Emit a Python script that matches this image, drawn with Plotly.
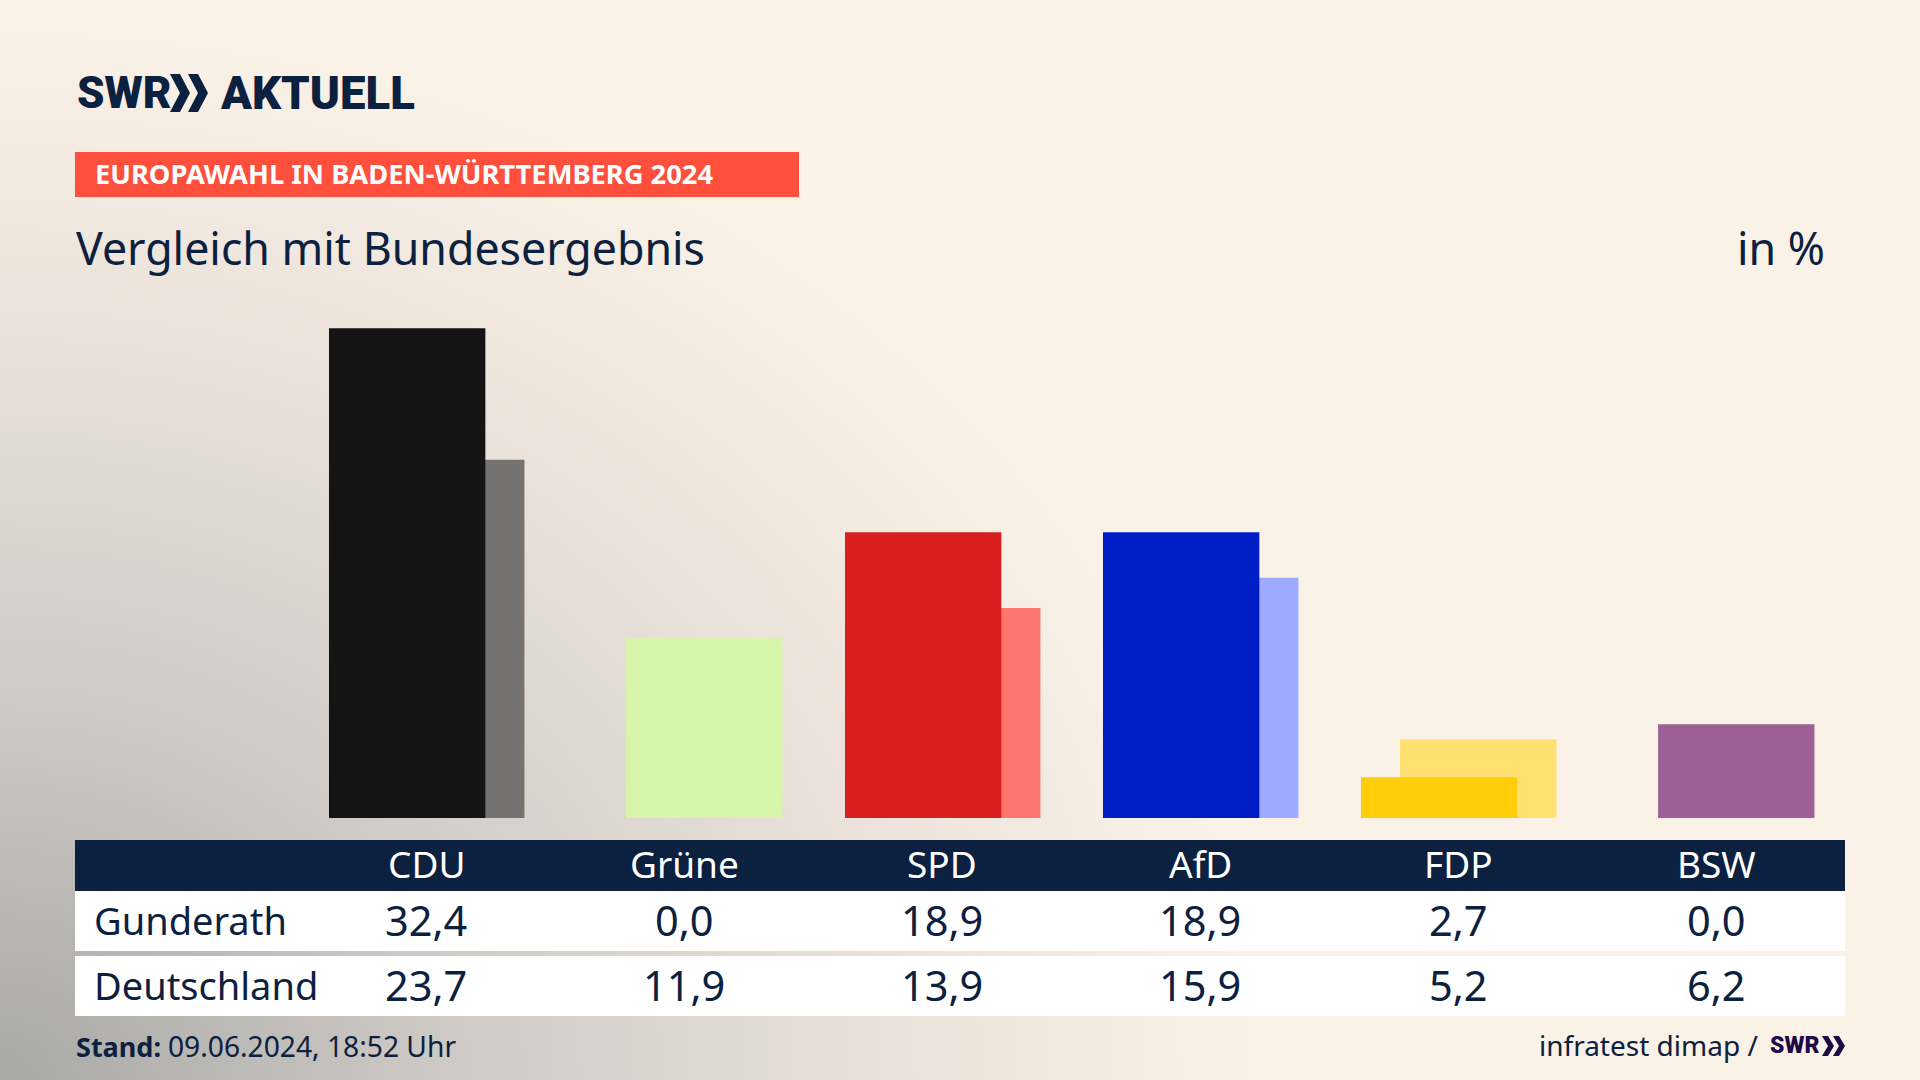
import base64
import plotly.graph_objects as go

parties = ["CDU", "Grüne", "SPD", "AfD", "FDP", "BSW"]
gunderath = [32.4, 0.0, 18.9, 18.9, 2.7, 0.0]
deutschland = [23.7, 11.9, 13.9, 15.9, 5.2, 6.2]

dark_colors = ["#141414", "#d6f5a8", "#d81e1e", "#001ec8", "#ffcd0a", "#9c6097"]
light_colors = ["#747371", "#d6f5a8", "#ff7570", "#9daaff", "#ffe070", "#9c6097"]

navy = "#0c2040"
font_name = "Noto Sans"
logo_font = "Roboto"
W = 1920
H = 1080


def fx(px):
    return px / W


def fy(py):
    return 1 - py / H


def fmt(v):
    return f"{v:.1f}".replace(".", ",")


def label(text, x, y, size, color=navy, xref="paper", xanchor="left", weight=400, family=font_name):
    if xref == "paper":
        x = fx(x)
    return dict(text=text, x=x, y=fy(y), xref=xref, yref="paper", xanchor=xanchor, yanchor="middle",
                showarrow=False, align="left", font=dict(family=family, size=size, color=color, weight=weight))


def rect(x0, y0, x1, y1, color):
    return dict(type="rect", xref="paper", yref="paper", x0=fx(x0), x1=fx(x1), y0=fy(y0), y1=fy(y1),
                fillcolor=color, line_width=0, layer="below")


def chevron(x, top, bottom, w, t, color):
    mid = (top + bottom) / 2
    pts = [(x, top), (x + t, top), (x + t + w, mid), (x + t, bottom), (x, bottom), (x + w, mid)]
    path = "M " + " L ".join(f"{fx(a):.5f},{fy(b):.5f}" for a, b in pts) + " Z"
    return dict(type="path", xref="paper", yref="paper", path=path, fillcolor=color, line_width=0)


# background gradient, grey from the bottom left corner into cream
svg = f"""<svg xmlns="http://www.w3.org/2000/svg" width="{W}" height="{H}">
<defs><radialGradient id="g" gradientUnits="userSpaceOnUse" cx="0" cy="0" r="1"
 gradientTransform="translate(0 {H}) scale(1250 1050)">
<stop offset="0" stop-color="#a8a8a6"/>
<stop offset="0.35" stop-color="#cdc9c4"/>
<stop offset="0.7" stop-color="#e9e1d9"/>
<stop offset="1" stop-color="#faf1e7"/>
</radialGradient></defs>
<rect width="{W}" height="{H}" fill="#faf1e7"/>
<rect width="{W}" height="{H}" fill="url(#g)"/>
</svg>"""
bg_uri = "data:image/svg+xml;base64," + base64.b64encode(svg.encode()).decode()

fig = go.Figure()
# Deutschland first, so the Gunderath bars sit on top
fig.add_trace(go.Bar(name="Deutschland", x=parties, y=deutschland, marker_color=light_colors,
                     marker_line_width=0, offset=-0.2245, width=0.606))
fig.add_trace(go.Bar(name="Gunderath", x=parties, y=gunderath, marker_color=dark_colors,
                     marker_line_width=0, offset=-0.376, width=0.606))

shapes = [
    rect(75, 152, 799, 197, "#ff4f3d"),
    rect(75, 840, 1845, 891, navy),
    rect(75, 891, 1845, 951, "#ffffff"),
    rect(75, 956, 1845, 1016, "#ffffff"),
    chevron(170, 74, 112, 10, 10, navy),
    chevron(188, 74, 112, 10, 10, navy),
    chevron(1822, 1036, 1056, 6, 6, "#1e0a46"),
    chevron(1833, 1036, 1056, 6, 6, "#1e0a46"),
]

annotations = [
    label("SWR", 75, 93, 44, weight=900, family=logo_font),
    label("AKTUELL", 218, 93, 45.5, weight=900, family=logo_font),
    label("EUROPAWAHL IN BADEN-WÜRTTEMBERG 2024", 93, 174, 27.3, color="#ffffff", weight=700),
    label("Vergleich mit Bundesergebnis", 74, 247, 44.7),
    label("in %", 1827, 247, 44.7, xanchor="right"),
    label("Gunderath", 92, 920, 38),
    label("Deutschland", 92, 985, 38),
    label("Stand:", 74, 1046, 27, weight=700),
    label("09.06.2024, 18:52 Uhr", 166, 1046, 28.2),
    label("infratest dimap /", 1760, 1045, 28, xanchor="right"),
    label("SWR", 1768, 1045, 23, color="#1e0a46", weight=900, family=logo_font),
]
for party, a, b in zip(parties, gunderath, deutschland):
    annotations.append(label(party, party, 863, 37, color="#ffffff", xref="x", xanchor="center"))
    annotations.append(label(fmt(a), party, 920, 41.5, xref="x", xanchor="center"))
    annotations.append(label(fmt(b), party, 985, 41.5, xref="x", xanchor="center"))

fig.update_layout(
    width=W,
    height=H,
    barmode="overlay",
    showlegend=False,
    margin=dict(l=0, r=0, t=0, b=0),
    paper_bgcolor="#faf1e7",
    plot_bgcolor="rgba(0,0,0,0)",
    shapes=shapes,
    annotations=annotations,
    images=[dict(source=bg_uri, xref="paper", yref="paper", x=0, y=1, sizex=1, sizey=1,
                 sizing="stretch", xanchor="left", yanchor="top", layer="below")],
)
fig.update_xaxes(domain=[fx(297), fx(1845)], type="category", categoryorder="array", categoryarray=parties,
                 showticklabels=False, showgrid=False, zeroline=False, showline=False, ticks="")
fig.update_yaxes(domain=[fy(818), fy(289)], range=[0, 35], showticklabels=False, showgrid=False,
                 zeroline=False, showline=False, ticks="")

fig.write_html("out.html", config={"displayModeBar": False},
               post_script="document.body.style.margin='0';document.body.style.overflow='hidden';")
